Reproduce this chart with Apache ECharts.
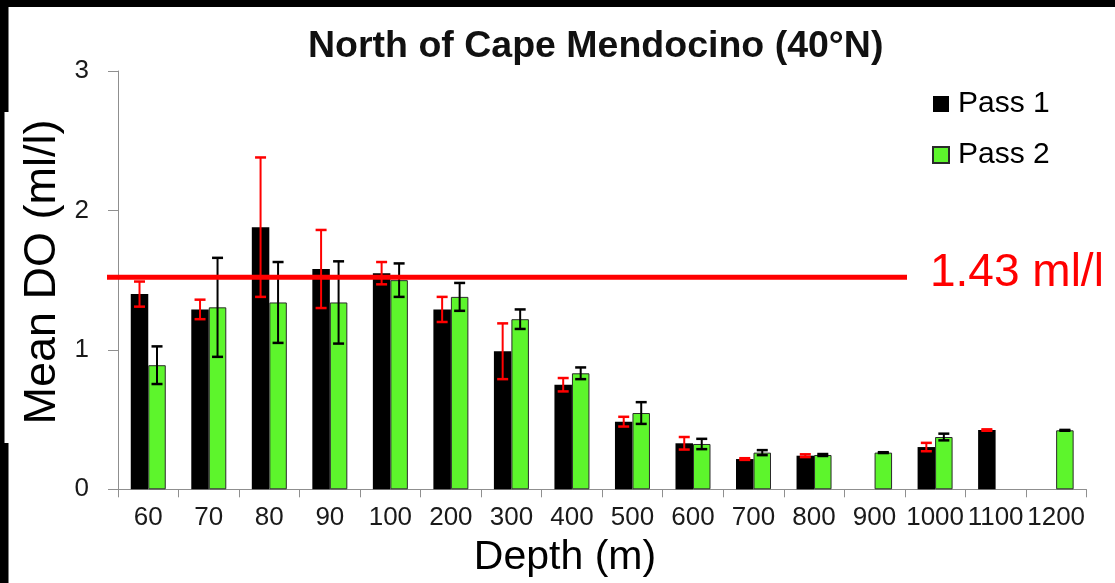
<!DOCTYPE html>
<html>
<head>
<meta charset="utf-8">
<script src="https://cdn.jsdelivr.net/npm/echarts@6/dist/echarts.min.js"></script>
<style>
html,body{margin:0;padding:0;background:#fff;}
#chart{width:1115px;height:583px;}
</style>
</head>
<body>
<div id="chart"></div>
<script>
// ---- data ----
const depths = ['60','70','80','90','100','200','300','400','500','600','700','800','900','1000','1100','1200'];
const pass1 = [1.40, 1.29, 1.88, 1.58, 1.55, 1.29, 0.99, 0.75, 0.485, 0.33, 0.217, 0.241, null, 0.303, 0.425, null];
const pass1Err = [0.09, 0.07, 0.50, 0.28, 0.08, 0.09, 0.20, 0.048, 0.035, 0.045, 0.006, 0.01, null, 0.03, 0.005, null];
const pass2 = [0.89, 1.305, 1.34, 1.34, 1.50, 1.38, 1.22, 0.832, 0.547, 0.325, 0.263, 0.246, 0.263, 0.375, null, 0.423];
const pass2Err = [0.135, 0.355, 0.29, 0.295, 0.12, 0.10, 0.07, 0.042, 0.078, 0.037, 0.018, 0.007, 0.003, 0.024, null, 0.003];
const yTicks = [0, 1, 2, 3];
const refValue = 1.52;
const refLabel = '1.43 ml/l';
const titleText = 'North of Cape Mendocino (40°N)';
const seriesNames = ['Pass 1', 'Pass 2'];

// ---- style ----
const FONT = '"Liberation Sans", Arial, Helvetica, sans-serif';
const GREEN = '#5DF52C';
const AXIS = '#8f8f8f';
const BAR_W = 17.5;

const chart = echarts.init(document.getElementById('chart'), null, {renderer: 'canvas'});

function errData(vals, errs) {
  const out = [];
  vals.forEach((v, i) => {
    if (v != null && errs[i] != null) out.push([i, v - errs[i], v + errs[i]]);
  });
  return out;
}

function errSeries(name, vals, errs, color, offset) {
  return {
    type: 'custom',
    name: name + ' err',
    z: 5,
    silent: true,
    encode: {x: 0, y: [1, 2]},
    data: errData(vals, errs),
    renderItem: function (params, api) {
      const idx = api.value(0);
      const x = api.coord([idx, 0])[0] + offset;
      const lo = api.coord([idx, api.value(1)])[1];
      const hi = api.coord([idx, api.value(2)])[1];
      const hw = 5.5;
      return {
        type: 'group',
        children: [
          {type: 'line', shape: {x1: x, y1: lo, x2: x, y2: hi}, style: {stroke: color, lineWidth: 2}},
          {type: 'line', shape: {x1: x - hw, y1: lo, x2: x + hw, y2: lo}, style: {stroke: color, lineWidth: 2.5}},
          {type: 'line', shape: {x1: x - hw, y1: hi, x2: x + hw, y2: hi}, style: {stroke: color, lineWidth: 2.5}}
        ]
      };
    }
  };
}

chart.setOption({
  animation: false,
  backgroundColor: '#ffffff',
  textStyle: {fontFamily: FONT},
  title: {
    text: titleText,
    left: 308,
    top: 28,
    padding: 0,
    textStyle: {fontFamily: FONT, fontSize: 37.5, fontWeight: 'bold', color: '#111'}
  },
  legend: {
    data: seriesNames,
    orient: 'vertical',
    left: 932,
    top: 89,
    padding: 0,
    itemWidth: 16,
    itemHeight: 16,
    itemGap: 21,
    icon: 'rect',
    textStyle: {fontFamily: FONT, fontSize: 30, color: '#000', padding: [0, 0, 0, 4]}
  },
  grid: {left: 118, right: 28.6, top: 71, bottom: 93.7},
  xAxis: {
    type: 'category',
    data: depths,
    axisLine: {show: true, lineStyle: {color: AXIS, width: 1}},
    axisTick: {show: true, length: 8, lineStyle: {color: AXIS}},
    axisLabel: {interval: 0, fontFamily: FONT, fontSize: 26, color: '#1a1a1a', margin: 16},
    splitLine: {show: false}
  },
  yAxis: {
    type: 'value',
    min: yTicks[0],
    max: yTicks[yTicks.length - 1],
    interval: 1,
    axisLine: {show: true, lineStyle: {color: AXIS, width: 1}},
    axisTick: {show: true, length: 10, lineStyle: {color: AXIS}},
    axisLabel: {fontFamily: FONT, fontSize: 26, color: '#1a1a1a', margin: 29},
    splitLine: {show: false}
  },
  series: [
    {
      type: 'bar',
      name: seriesNames[0],
      data: pass1,
      barWidth: BAR_W,
      barGap: '0%',
      itemStyle: {color: '#000000', borderColor: '#000', borderWidth: 0}
    },
    {
      type: 'bar',
      name: seriesNames[1],
      data: pass2,
      barWidth: BAR_W,
      barGap: '0%',
      itemStyle: {color: GREEN, borderColor: '#2a2a2a', borderWidth: 1}
    },
    errSeries(seriesNames[0], pass1, pass1Err, '#ff0000', -BAR_W / 2),
    errSeries(seriesNames[1], pass2, pass2Err, '#000000', BAR_W / 2)
  ]
});

const refY = chart.convertToPixel({yAxisIndex: 0}, refValue);
chart.setOption({
  graphic: [
    {type: 'rect', id: 'bTop', shape: {x: 0, y: 0, width: 1115, height: 7}, style: {fill: '#000'}, z: 100},
    {type: 'rect', id: 'bL1', shape: {x: 0, y: 0, width: 8.5, height: 112}, style: {fill: '#000'}, z: 100},
    {type: 'rect', id: 'bL2', shape: {x: 0, y: 112, width: 4.5, height: 331}, style: {fill: '#000'}, z: 100},
    {type: 'rect', id: 'bL3', shape: {x: 0, y: 443, width: 8.5, height: 140}, style: {fill: '#000'}, z: 100},
    {type: 'line', id: 'refLine', shape: {x1: 107, y1: refY, x2: 907, y2: refY}, style: {stroke: '#ff0000', lineWidth: 5}, z: 50},
    {type: 'text', id: 'refText', x: 930, y: 273,
      style: {text: refLabel, fill: '#ff0000', font: '46px ' + FONT, textAlign: 'left', textVerticalAlign: 'middle'}, z: 50},
    {type: 'text', id: 'yName', x: 43, y: 272, rotation: Math.PI / 2,
      style: {text: 'Mean DO (ml/l)', fill: '#000', font: '45px ' + FONT, textAlign: 'center', textVerticalAlign: 'middle'}, z: 50},
    {type: 'text', id: 'xName', x: 565, y: 558,
      style: {text: 'Depth (m)', fill: '#000', font: '41px ' + FONT, textAlign: 'center', textVerticalAlign: 'middle'}, z: 50}
  ]
});
</script>
</body>
</html>
